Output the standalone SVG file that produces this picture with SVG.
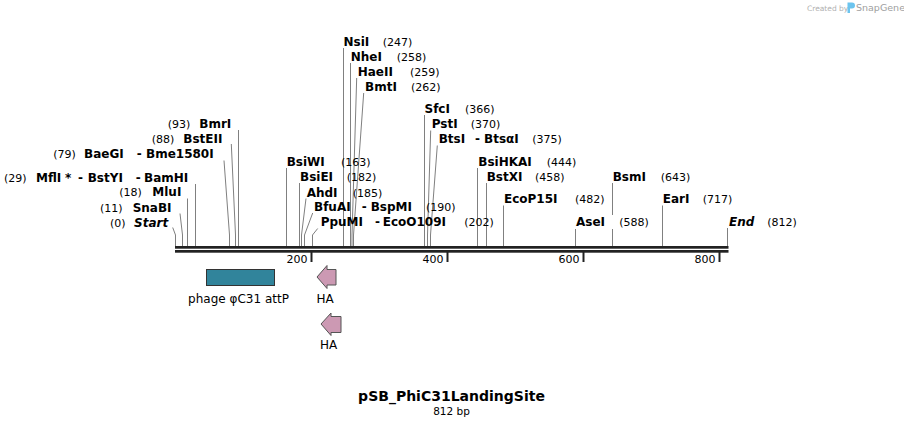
<svg xmlns="http://www.w3.org/2000/svg" width="904" height="427" viewBox="0 0 904 427">
<style>
.n{font-family:"DejaVu Sans",Verdana,sans-serif;font-size:12px;font-weight:bold;fill:#000}
.i{font-style:italic}
.p{font-family:"DejaVu Sans",Verdana,sans-serif;font-size:11px;fill:#000;font-weight:normal;font-style:normal}
.f{font-family:"DejaVu Sans",Verdana,sans-serif;font-size:12px;fill:#000}
.ld{fill:none;stroke:#808080;stroke-width:1}
.bb{fill:#222}
.tk{stroke:#222;stroke-width:2}
.bg{fill:#fff}
</style>
<rect width="904" height="427" fill="#fff"/>
<g id="watermark">
<text x="807" y="10.5" font-family="DejaVu Sans,sans-serif" font-size="7.5" fill="#b0b0b0">Created by</text>
<path d="M847.5 2.5 h4.5 a3 3 0 0 1 0 6 h-2 v4.5 h-2.5 z" fill="#6cc4ee"/>
<text x="856" y="11" font-family="DejaVu Sans,sans-serif" font-size="9.5" fill="#a0a0a0">SnapGene</text>
</g>
<g id="connectors">
<polyline class="ld" points="172.7,227.5 175.5,235 175.5,246"/>
<polyline class="ld" points="180,213.5 182.5,235 182.5,246"/>
<polyline class="ld" points="187.5,198.5 187.5,246"/>
<polyline class="ld" points="195.5,184 195.5,246"/>
<polyline class="ld" points="224,160.5 229.5,235 229.5,246"/>
<polyline class="ld" points="231.3,144 235.5,235 235.5,246"/>
<polyline class="ld" points="238.5,130 238.5,246"/>
<polyline class="ld" points="286.5,168 286.5,246"/>
<polyline class="ld" points="299.5,183 299.5,246"/>
<polyline class="ld" points="306,198.5 301.5,235 301.5,246"/>
<polyline class="ld" points="312.7,213 304.5,235 304.5,246"/>
<polyline class="ld" points="317.7,228.5 312.5,235 312.5,246"/>
<polyline class="ld" points="343.5,48 343.5,246"/>
<polyline class="ld" points="350.5,63 350.5,246"/>
<polyline class="ld" points="356.7,78 352,235 352,246"/>
<polyline class="ld" points="363.7,93 353.5,235 353.5,246"/>
<polyline class="ld" points="424.5,115 424.5,246"/>
<polyline class="ld" points="430.7,130.5 427.5,235 427.5,246"/>
<polyline class="ld" points="437.3,145.5 430.5,235 430.5,246"/>
<polyline class="ld" points="477.5,168 477.5,246"/>
<polyline class="ld" points="486.5,183 486.5,246"/>
<polyline class="ld" points="503.5,205.5 503.5,246"/>
<polyline class="ld" points="575.5,228 575.5,246"/>
<polyline class="ld" points="612.5,183 612.5,246"/>
<polyline class="ld" points="662.5,205.5 662.5,246"/>
<polyline class="ld" points="727.5,228 727.5,246"/>
</g>
<g id="backbone">
<rect class="bb" x="175" y="246" width="553.5" height="2.7"/>
<rect class="bb" x="175" y="250" width="553.5" height="2.7"/>
<line class="tk" x1="311.5" y1="252" x2="311.5" y2="262"/>
<line class="tk" x1="447.5" y1="252" x2="447.5" y2="262"/>
<line class="tk" x1="583.5" y1="252" x2="583.5" y2="262"/>
<line class="tk" x1="719.5" y1="252" x2="719.5" y2="262"/>
<text class="p" x="307.5" y="263" text-anchor="end">200</text>
<text class="p" x="443.5" y="263" text-anchor="end">400</text>
<text class="p" x="579.5" y="263" text-anchor="end">600</text>
<text class="p" x="715.5" y="263" text-anchor="end">800</text>
</g>
<g id="site-Start"><text class="n"><tspan class="p" x="110" y="226.5">(0)</tspan><tspan class="i" x="134" y="226.5">Start</tspan></text></g>
<g id="site-SnaBI"><text class="n"><tspan class="p" x="100" y="211.5">(11)</tspan><tspan x="132.7" y="211.5">SnaBI</tspan></text></g>
<g id="site-MluI"><text class="n"><tspan class="p" x="119.3" y="196">(18)</tspan><tspan x="152.3" y="196">MluI</tspan></text></g>
<g id="site-BamHI"><text class="n"><tspan class="p" x="4" y="181.7">(29)</tspan><tspan x="36" y="181.7">MflI</tspan><tspan x="65" y="181.7">*</tspan><tspan x="78" y="181.7">-</tspan><tspan x="87.7" y="181.7">BstYI</tspan><tspan x="135.7" y="181.7">-</tspan><tspan x="144" y="181.7">BamHI</tspan></text></g>
<g id="site-Bme1580I"><text class="n"><tspan class="p" x="53.3" y="158">(79)</tspan><tspan x="84" y="158">BaeGI</tspan><tspan x="136.7" y="158">-</tspan><tspan x="146" y="158">Bme1580I</tspan></text></g>
<g id="site-BstEII"><text class="n"><tspan class="p" x="151.7" y="142.5">(88)</tspan><tspan x="183.3" y="142.5">BstEII</tspan></text></g>
<g id="site-BmrI"><text class="n"><tspan class="p" x="167.7" y="128">(93)</tspan><tspan x="199.3" y="128">BmrI</tspan></text></g>
<g id="site-BsiWI"><text class="n"><tspan x="286.7" y="166">BsiWI</tspan><tspan class="p" x="341" y="166">(163)</tspan></text></g>
<g id="site-BsiEI"><text class="n"><tspan x="300" y="181">BsiEI</tspan><tspan class="p" x="346.7" y="181">(182)</tspan></text></g>
<g id="site-AhdI"><text class="n"><tspan x="306.7" y="196.5">AhdI</tspan><tspan class="p" x="352.7" y="196.5">(185)</tspan></text></g>
<g id="site-BspMI"><text class="n"><tspan x="314" y="211">BfuAI</tspan><tspan x="361.7" y="211">-</tspan><tspan x="370.7" y="211">BspMI</tspan><tspan class="p" x="426" y="211">(190)</tspan></text></g>
<g id="site-EcoO109I"><text class="n"><tspan x="320.7" y="226">PpuMI</tspan><tspan x="375" y="226">-</tspan><tspan x="382.7" y="226">EcoO109I</tspan><tspan class="p" x="464.3" y="226">(202)</tspan></text></g>
<g id="site-NsiI"><text class="n"><tspan x="343.5" y="46">NsiI</tspan><tspan class="p" x="382.7" y="46">(247)</tspan></text></g>
<g id="site-NheI"><text class="n"><tspan x="350.7" y="61">NheI</tspan><tspan class="p" x="396.7" y="61">(258)</tspan></text></g>
<g id="site-HaeII"><text class="n"><tspan x="357.7" y="76">HaeII</tspan><tspan class="p" x="410" y="76">(259)</tspan></text></g>
<g id="site-BmtI"><text class="n"><tspan x="365" y="91">BmtI</tspan><tspan class="p" x="411" y="91">(262)</tspan></text></g>
<g id="site-SfcI"><text class="n"><tspan x="424.5" y="113.3">SfcI</tspan><tspan class="p" x="465" y="113.3">(366)</tspan></text></g>
<g id="site-PstI"><text class="n"><tspan x="431.7" y="128.3">PstI</tspan><tspan class="p" x="470.7" y="128.3">(370)</tspan></text></g>
<g id="site-BtsaI"><text class="n"><tspan x="438.7" y="143.3">BtsI</tspan><tspan x="475" y="143.3">-</tspan><tspan x="484" y="143.3">BtsαI</tspan><tspan class="p" x="532.3" y="143.3">(375)</tspan></text></g>
<g id="site-BsiHKAI"><text class="n"><tspan x="478.3" y="166">BsiHKAI</tspan><tspan class="p" x="546.7" y="166">(444)</tspan></text></g>
<g id="site-BstXI"><text class="n"><tspan x="486.7" y="181">BstXI</tspan><tspan class="p" x="535" y="181">(458)</tspan></text></g>
<g id="site-EcoP15I"><text class="n"><tspan x="504" y="203.3">EcoP15I</tspan><tspan class="p" x="575" y="203.3">(482)</tspan></text></g>
<g id="site-AseI"><rect class="bg" x="574" y="215" width="70" height="14"/><text class="n"><tspan x="576" y="226">AseI</tspan><tspan class="p" x="619.3" y="226">(588)</tspan></text></g>
<g id="site-BsmI"><text class="n"><tspan x="612.7" y="181">BsmI</tspan><tspan class="p" x="660.7" y="181">(643)</tspan></text></g>
<g id="site-EarI"><text class="n"><tspan x="662.7" y="203.3">EarI</tspan><tspan class="p" x="702.7" y="203.3">(717)</tspan></text></g>
<g id="site-End"><text class="n"><tspan class="i" x="729" y="226">End</tspan><tspan class="p" x="767.3" y="226">(812)</tspan></text></g>
<g id="feature-attP">
<rect x="206.5" y="269.5" width="68" height="16" fill="#31849b" stroke="#333" stroke-width="1"/>
<text class="f" x="238.5" y="302.5" text-anchor="middle">phage φC31 attP</text>
</g>
<g id="feature-HA-1">
<path d="M317 277 L327 265.5 V269.5 H336 V285 H327 V288.5 Z" fill="#cc99b3" stroke="#555" stroke-width="1"/>
<text class="f" x="325" y="302.5" text-anchor="middle">HA</text>
</g>
<g id="feature-HA-2">
<path d="M321 324 L331 313 V316.5 H341 V332.5 H331 V335.5 Z" fill="#cc99b3" stroke="#555" stroke-width="1"/>
<text class="f" x="328.5" y="349" text-anchor="middle">HA</text>
</g>
<g id="title">
<text x="451.5" y="401" text-anchor="middle" font-family="DejaVu Sans,Verdana,sans-serif" font-size="14" font-weight="bold">pSB_PhiC31LandingSite</text>
<text x="451.5" y="414.5" text-anchor="middle" font-family="DejaVu Sans,Verdana,sans-serif" font-size="10.5">812 bp</text>
</g>
</svg>
